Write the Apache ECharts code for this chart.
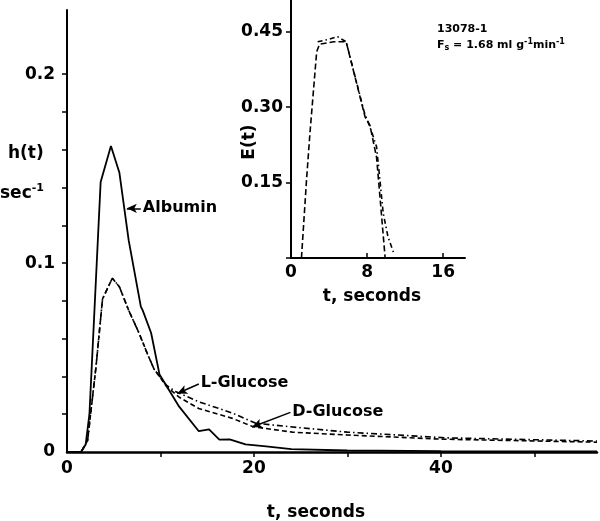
<!DOCTYPE html>
<html>
<head>
<meta charset="utf-8">
<script src="https://cdn.jsdelivr.net/npm/echarts@6/dist/echarts.min.js"></script>
<style>
  html, body { margin: 0; padding: 0; background: #fff; }
  #chart { width: 600px; height: 521px; }
</style>
</head>
<body>
<div id="chart"></div>
<script>
// ---- Data ----
// Main chart: h(t), sec^-1 versus t, seconds
const albumin = [[0,0],[1.5,0],[2.0,0.004],[2.4,0.02],[3.6,0.143],[4.7,0.162],[5.6,0.148],[6.6,0.112],[7.9,0.077],[8.1,0.075],[9.0,0.063],[9.9,0.041],[12.0,0.024],[14.1,0.011],[15.2,0.012],[16.3,0.0065],[17.4,0.0067],[19.1,0.004],[21.3,0.003],[24,0.0015],[30,0.0008],[40,0.0005],[56.7,0.0003]];
const lGlucose = [[0,0],[1.5,0],[2.2,0.006],[3.1,0.045],[3.8,0.081],[4.85,0.092],[5.6,0.0875],[6.6,0.075],[7.7,0.063],[8.6,0.052],[9.3,0.044],[9.9,0.040],[10.6,0.0355],[11.6,0.032],[14.1,0.0266],[17.7,0.0206],[20.2,0.0152],[23.8,0.0134],[30,0.0105],[40.6,0.0075],[56.7,0.0058]];
const dGlucose = [[0,0],[1.5,0],[2.2,0.006],[3.1,0.045],[3.8,0.081],[4.85,0.092],[5.6,0.0875],[6.6,0.075],[7.7,0.063],[8.6,0.052],[9.3,0.044],[9.9,0.040],[10.6,0.035],[12.0,0.029],[14.1,0.023],[17.7,0.0178],[19.9,0.0134],[24.1,0.0105],[30,0.009],[40,0.0068],[56.7,0.0052]];
// Inset: E(t) versus t, seconds
const insetDashed = [[1.1,0],[1.65,0.16],[2.0,0.25],[2.7,0.41],[3.0,0.425],[4.5,0.43],[5.8,0.43],[7.8,0.28],[8.0,0.274],[8.3,0.264],[9.0,0.2],[9.5,0.09],[9.9,0]];
const insetDashDot = [[2.8,0.43],[4.0,0.435],[4.9,0.44],[5.8,0.43],[7.7,0.29],[8.5,0.25],[9.0,0.221],[9.7,0.089],[10.2,0.042],[10.8,0.01]];
// Tick values
const mainXTicks = [10,20,30,40,50];
const mainXLabels = [0,20,40];
const mainYTicks = [0.02,0.04,0.06,0.08,0.1,0.12,0.14,0.16,0.18,0.2];
const mainYLabels = [0,0.1,0.2];
const insetXTicks = [0,8,16];
const insetYTicks = [0,0.15,0.30,0.45];
const insetYLabels = [0.15,0.30,0.45];
// Annotation anchors [head, tail] in data units
const albuminArrow = [[6.4,0.129],[7.9,0.129]];
const lGlucoseArrow = [[11.8,0.031],[14.1,0.036]];
const dGlucoseArrow = [[19.8,0.0132],[23.9,0.021]];

const FONT = 'DejaVu Sans';
const txt = { color:'#000', fontFamily: FONT, fontWeight:'bold', fontSize:17 };

function arrow(pts, label) {
  return {
    silent: true,
    symbol: ['arrow','none'],
    symbolSize: [7,10],
    lineStyle: { type:'solid', color:'#000', width:1.5 },
    label: { show:true, position:'end', distance:2, formatter: label, color:'#000', fontFamily: FONT, fontWeight:'bold', fontSize:16 },
    data: [[{coord: pts[0]}, {coord: pts[1]}]]
  };
}

const chart = echarts.init(document.getElementById('chart'), null, {renderer:'canvas'});
chart.setOption({
  animation: false,
  backgroundColor: '#fff',
  grid: [
    { left: 67, right: 3, top: 10, bottom: 69 },
    { left: 291, right: 135, top: 0, bottom: 263 }
  ],
  xAxis: [
    { gridIndex:0, type:'value', min:0, max:56.7,
      axisLine:{ lineStyle:{ color:'#000', width:2.5 } },
      axisTick:{ show:true, inside:false, length:5, customValues: mainXTicks, lineStyle:{ color:'#000', width:1.5 } },
      axisLabel:{ ...txt, margin:8, customValues: mainXLabels },
      splitLine:{ show:false } },
    { gridIndex:1, type:'value', min:0, max:18.3,
      axisLine:{ lineStyle:{ color:'#000', width:2 } },
      axisTick:{ show:true, inside:true, length:5, customValues: insetXTicks, lineStyle:{ color:'#000', width:1.5 } },
      axisLabel:{ ...txt, margin:6, customValues: insetXTicks },
      splitLine:{ show:false } }
  ],
  yAxis: [
    { gridIndex:0, type:'value', min:0, max:0.234,
      axisLine:{ show:true, lineStyle:{ color:'#000', width:2 } },
      axisTick:{ show:true, inside:false, length:5, customValues: mainYTicks, lineStyle:{ color:'#000', width:1.5 } },
      axisLabel:{ ...txt, margin:12, customValues: mainYLabels, formatter: v => v === 0 ? '0' : String(v) },
      splitLine:{ show:false } },
    { gridIndex:1, type:'value', min:0, max:0.513,
      axisLine:{ show:true, lineStyle:{ color:'#000', width:2 } },
      axisTick:{ show:true, inside:false, length:5, customValues: insetYTicks, lineStyle:{ color:'#000', width:1.5 } },
      axisLabel:{ ...txt, margin:8, customValues: insetYLabels, formatter: v => v.toFixed(2) },
      splitLine:{ show:false } }
  ],
  series: [
    { name:'Albumin', type:'line', xAxisIndex:0, yAxisIndex:0, data: albumin, showSymbol:false,
      lineStyle:{ color:'#000', width:1.8, type:'solid' }, markLine: arrow(albuminArrow, 'Albumin') },
    { name:'L-Glucose', type:'line', xAxisIndex:0, yAxisIndex:0, data: lGlucose, showSymbol:false,
      lineStyle:{ color:'#000', width:1.6, type:[6,3,1.5,3] }, markLine: arrow(lGlucoseArrow, 'L-Glucose') },
    { name:'D-Glucose', type:'line', xAxisIndex:0, yAxisIndex:0, data: dGlucose, showSymbol:false,
      lineStyle:{ color:'#000', width:1.6, type:[5,3] }, markLine: arrow(dGlucoseArrow, 'D-Glucose') },
    { name:'E dashed', type:'line', xAxisIndex:1, yAxisIndex:1, data: insetDashed, showSymbol:false,
      lineStyle:{ color:'#000', width:1.6, type:[6,3] } },
    { name:'E dashdot', type:'line', xAxisIndex:1, yAxisIndex:1, data: insetDashDot, showSymbol:false,
      lineStyle:{ color:'#000', width:1.6, type:[5,3,1.5,3] } }
  ],
  graphic: [
    { type:'text', left:8, top:145, style:{ text:'h(t)', fill:'#000', font:'bold 17px "DejaVu Sans"' } },
    { type:'text', left:0, top:183, style:{ text:'{b|sec}{s|-1}', fill:'#000',
        rich:{ b:{ fontFamily:FONT, fontWeight:'bold', fontSize:17, verticalAlign:'bottom' }, s:{ fontFamily:FONT, fontWeight:'bold', fontSize:11, verticalAlign:'top', padding:[0,0,8,0] } } } },
    { type:'text', x:316, y:513, style:{ text:'t, seconds', fill:'#000', font:'bold 17px "DejaVu Sans"', align:'center', verticalAlign:'middle' } },
    { type:'text', x:372, y:297, style:{ text:'t, seconds', fill:'#000', font:'bold 17px "DejaVu Sans"', align:'center', verticalAlign:'middle' } },
    { type:'text', x:250, y:142, rotation: Math.PI/2, style:{ text:'E(t)', fill:'#000', font:'bold 17px "DejaVu Sans"', align:'center', verticalAlign:'middle' } },
    { type:'text', left:437, top:24, style:{ text:'13078-1', fill:'#000', font:'bold 11px "DejaVu Sans"' } },
    { type:'text', left:437, top:38, style:{ text:'{b|F}{sub|s}{b| = 1.68 ml g}{sup|-1}{b|min}{sup|-1}', fill:'#000',
        rich:{ b:{ fontFamily:FONT, fontWeight:'bold', fontSize:11 }, sub:{ fontFamily:FONT, fontWeight:'bold', fontSize:8, padding:[6,0,0,0] }, sup:{ fontFamily:FONT, fontWeight:'bold', fontSize:8, padding:[0,0,6,0] } } } }
  ]
});
</script>
</body>
</html>
